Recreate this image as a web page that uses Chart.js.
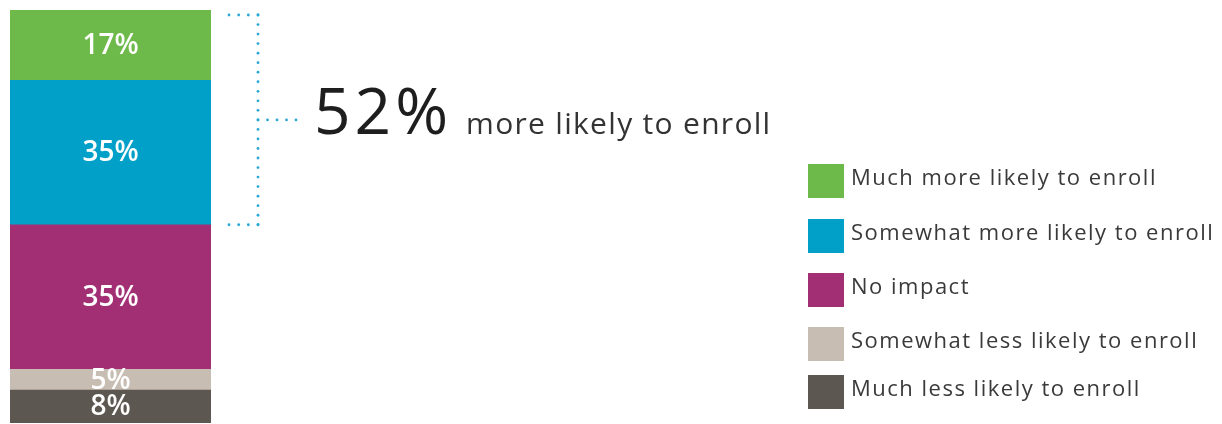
<!DOCTYPE html>
<html lang="en">
<head>
  <meta charset="UTF-8" />
  <title>Likelihood to enroll</title>
  <script src="https://cdn.jsdelivr.net/npm/chart.js"></script>
  <style>
    html, body { margin: 0; padding: 0; background: #fff; }
    #wrap { width: 1222px; height: 424px; position: relative; }
  </style>
</head>
<body>
  <div id="wrap">
    <canvas id="myChart" width="1222" height="424"></canvas>
  </div>

  <script>
    // categories, bottom of the bar first (Chart.js stacks upward)
    const categories = ['Much less likely to enroll', 'Somewhat less likely to enroll', 'No impact',
      'Somewhat more likely to enroll', 'Much more likely to enroll'];
    const values = [8, 5, 35, 35, 17];
    const colors = ['#5c5750', '#c8bdb2', '#a22f74', '#00a0c8', '#6dba4b'];
    const barLabel = ['All respondents'];
    const highlightCount = 2; // the top two segments are summed in the callout
    const calloutText = 'more likely to enroll';

    const FONT = '"Open Sans", sans-serif';

    // white percentages inside each segment
    const segmentLabels = {
      id: 'segmentLabels',
      afterDatasetsDraw(chart) {
        const ctx = chart.ctx;
        ctx.save();
        ctx.fillStyle = '#ffffff';
        ctx.font = '600 28px ' + FONT;
        ctx.textAlign = 'center';
        ctx.textBaseline = 'middle';
        chart.data.datasets.forEach((ds, i) => {
          const bar = chart.getDatasetMeta(i).data[0];
          ctx.fillText(ds.data[0] + '%', bar.x, (bar.y + bar.base) / 2 + 1);
        });
        ctx.restore();
      }
    };

    // dotted bracket + "52% more likely to enroll"
    const callout = {
      id: 'callout',
      afterDraw(chart) {
        const ctx = chart.ctx;
        const y = chart.scales.y;
        const area = chart.chartArea;
        const n = values.length;
        const top = y.getPixelForValue(100) + 5;
        let low = 0;
        for (let i = 0; i < n - highlightCount; i++) low += values[i];
        const bottom = y.getPixelForValue(low);
        const sum = values.slice(n - highlightCount).reduce((a, b) => a + b, 0);
        const x0 = area.right + 18, x1 = area.right + 47;
        const mid = (top + bottom) / 2;

        ctx.save();
        ctx.fillStyle = '#2ba7d6';
        function dots(ax, ay, bx, by) {
          const len = Math.hypot(bx - ax, by - ay);
          const steps = Math.round(len / 9.7);
          for (let k = 0; k <= steps; k++) {
            const t = k / steps;
            ctx.beginPath();
            ctx.arc(ax + (bx - ax) * t, ay + (by - ay) * t, 1.4, 0, Math.PI * 2);
            ctx.fill();
          }
        }
        dots(x0, top, x1, top);
        dots(x1, top, x1, bottom);
        dots(x0, bottom, x1, bottom);
        dots(x1, mid, x1 + 38, mid);

        ctx.textBaseline = 'alphabetic';
        ctx.textAlign = 'left';
        ctx.fillStyle = '#1e1e1e';
        ctx.font = '400 64px ' + FONT;
        ctx.letterSpacing = '4px';
        const big = sum + '%';
        const bx = x1 + 56;
        ctx.fillText(big, bx, 134);
        const w = ctx.measureText(big).width;
        ctx.fillStyle = '#333333';
        ctx.font = '400 30px ' + FONT;
        ctx.letterSpacing = '1.3px';
        ctx.fillText(calloutText, bx + w + 14, 134);
        ctx.restore();
      }
    };

    // legend on the right, top category first
    const sideLegend = {
      id: 'sideLegend',
      afterDraw(chart) {
        const ctx = chart.ctx;
        const ds = chart.data.datasets.slice().reverse();
        const rowsY = [164, 219, 273, 327, 375];
        ctx.save();
        ctx.font = '400 22px ' + FONT;
        ctx.letterSpacing = '1.5px';
        ctx.textBaseline = 'middle';
        ctx.textAlign = 'left';
        ds.forEach((d, i) => {
          const yy = rowsY[i];
          ctx.fillStyle = d.backgroundColor;
          ctx.fillRect(808, yy, 36, 34);
          ctx.fillStyle = '#3a3a3a';
          ctx.fillText(d.label, 851, yy + 15);
        });
        ctx.restore();
      }
    };

    const ctx = document.getElementById('myChart').getContext('2d');
    new Chart(ctx, {
      type: 'bar',
      data: {
        labels: barLabel,
        datasets: categories.map((c, i) => ({
          label: c,
          data: [values[i]],
          backgroundColor: colors[i],
          borderWidth: 0,
          barPercentage: 1,
          categoryPercentage: 1
        }))
      },
      options: {
        responsive: false,
        animation: false,
        layout: { padding: { left: 10, top: 10, right: 1011, bottom: 1 } },
        plugins: { legend: { display: false }, tooltip: { enabled: false } },
        scales: {
          x: { stacked: true, display: false },
          y: { stacked: true, display: false, min: 0, max: 100 }
        }
      },
      plugins: [segmentLabels, callout, sideLegend]
    });
  </script>
</body>
</html>
